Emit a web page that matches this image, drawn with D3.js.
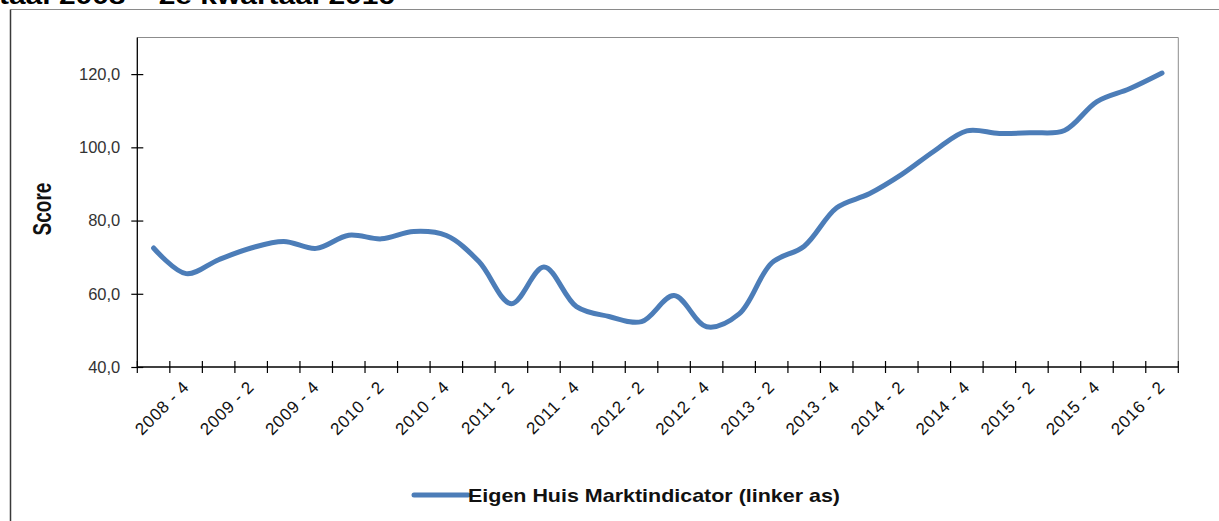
<!DOCTYPE html>
<html>
<head>
<meta charset="utf-8">
<script src="https://cdn.jsdelivr.net/npm/d3@7"></script>
<style>
  html, body { margin: 0; padding: 0; background: #fff; }
  svg { display: block; }
  text { font-family: "Liberation Sans", Arial, sans-serif; }
</style>
</head>
<body>
<svg id="chart" width="1219" height="521"></svg>
<script>
const categories = [
  "2008 - 3","2008 - 4",
  "2009 - 1","2009 - 2","2009 - 3","2009 - 4",
  "2010 - 1","2010 - 2","2010 - 3","2010 - 4",
  "2011 - 1","2011 - 2","2011 - 3","2011 - 4",
  "2012 - 1","2012 - 2","2012 - 3","2012 - 4",
  "2013 - 1","2013 - 2","2013 - 3","2013 - 4",
  "2014 - 1","2014 - 2","2014 - 3","2014 - 4",
  "2015 - 1","2015 - 2","2015 - 3","2015 - 4",
  "2016 - 1","2016 - 2"
];
const marktindicator = [
  72.5, 65.5,
  69.3, 72.5, 74.3, 72.4,
  76.0, 75.0, 77.0, 75.9,
  68.8, 57.3, 67.3, 56.5,
  53.8, 52.4, 59.5, 51.0,
  54.5, 68.4, 73.0, 83.5,
  87.3, 92.6, 99.0, 104.5,
  103.8, 104.0, 104.6, 112.5,
  116.0, 120.3
];
const yTicks = [40, 60, 80, 100, 120];
const seriesName = "Eigen Huis Marktindicator (linker as)";
const yTitle = "Score";
const titleText = "taal 2008 \u2013 2e kwartaal 2016";

(function () {
const svg = d3.select("#chart");
const pLeft = 137.3, pRight = 1178.3, pTop = 37.5, pBottom = 367;
const blue = "#4C7DB8";

// outer frame
svg.append("line").attr("x1", 10.5).attr("x2", 1219).attr("y1", 9.5).attr("y2", 9.5)
  .attr("stroke", "#8a8a8a").attr("stroke-width", 1);
svg.append("line").attr("x1", 10.5).attr("x2", 10.5).attr("y1", 9.5).attr("y2", 521)
  .attr("stroke", "#3a3a3a").attr("stroke-width", 1.5);

// clipped title at top (cut off by the page edge, as in the source image)
svg.append("text").attr("x", -1).attr("y", 4)
  .attr("font-size", 24).attr("font-weight", "bold").attr("fill", "#000")
  .attr("textLength", 396).attr("lengthAdjust", "spacingAndGlyphs")
  .text(titleText);

const x = d3.scaleBand().domain(categories).range([pLeft, pRight]).padding(0);
const y = d3.scaleLinear().domain([40, 130]).range([pBottom, pTop]);

// plot-area border (top and right)
svg.append("path")
  .attr("d", `M${pLeft},${pTop}H${pRight}V${pBottom}`)
  .attr("fill", "none").attr("stroke", "#8c8c8c").attr("stroke-width", 1);

// Y axis
const yAxis = d3.axisLeft(y).tickValues(yTicks).tickSize(0).tickPadding(0)
  .tickFormat(d => d3.format(".1f")(d).replace(".", ","));
const gy = svg.append("g").attr("transform", `translate(${pLeft},0)`).call(yAxis);
gy.select(".domain").remove();
gy.selectAll(".tick text").attr("x", -17).attr("font-size", 16.5).attr("fill", "#333")
  .attr("font-family", "Liberation Sans, Arial, sans-serif");
gy.selectAll(".tick").append("line").attr("x1", -6).attr("x2", 6).attr("stroke", "#000").attr("stroke-width", 1.2);
svg.append("line").attr("x1", pLeft).attr("x2", pLeft).attr("y1", pTop).attr("y2", pBottom)
  .attr("stroke", "#000").attr("stroke-width", 1.3);

// X axis
svg.append("line").attr("x1", pLeft).attr("x2", pRight).attr("y1", pBottom).attr("y2", pBottom)
  .attr("stroke", "#000").attr("stroke-width", 1.3);
const boundaries = categories.map(c => x(c)).concat([x.range()[1]]);
svg.append("g").selectAll("line").data(boundaries).join("line")
  .attr("x1", d => d).attr("x2", d => d).attr("y1", pBottom - 6).attr("y2", pBottom + 6)
  .attr("stroke", "#000").attr("stroke-width", 1.2);
svg.append("g").selectAll("text").data(categories.filter((c, i) => i % 2 === 1)).join("text")
  .attr("transform", d => `translate(${x(d) + x.bandwidth() / 2 + 4},${pBottom + 21}) rotate(-45)`)
  .attr("text-anchor", "end").attr("font-size", 17).attr("fill", "#111")
  .attr("letter-spacing", 0.7)
  .text(d => d);

// Y title
svg.append("text").attr("transform", `translate(50.5,209) scale(1.35,1) rotate(-90)`)
  .attr("text-anchor", "middle").attr("font-size", 19).attr("font-weight", "bold").attr("fill", "#111")
  .text(yTitle);

// line
const line = d3.line()
  .x((d, i) => x(categories[i]) + x.bandwidth() / 2)
  .y(d => y(d))
  .curve(d3.curveCatmullRom.alpha(0.5));
svg.append("path").datum(marktindicator)
  .attr("d", line).attr("fill", "none").attr("stroke", blue)
  .attr("stroke-width", 5).attr("stroke-linecap", "round").attr("stroke-linejoin", "round");

// legend
svg.append("line").attr("x1", 414).attr("x2", 468).attr("y1", 495).attr("y2", 495)
  .attr("stroke", blue).attr("stroke-width", 5).attr("stroke-linecap", "round");
svg.append("text").attr("x", 468).attr("y", 502)
  .attr("font-size", 18.5).attr("font-weight", "bold").attr("fill", "#111")
  .attr("textLength", 372).attr("lengthAdjust", "spacingAndGlyphs")
  .text(seriesName);
})();
</script>
</body>
</html>
